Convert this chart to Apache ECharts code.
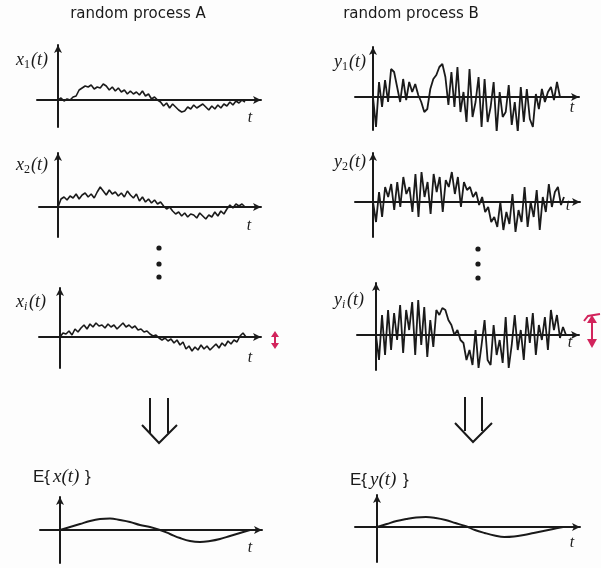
<!DOCTYPE html>
<html><head><meta charset="utf-8">
<script src="https://cdn.jsdelivr.net/npm/echarts@6/dist/echarts.min.js"></script>
<style>html,body{margin:0;padding:0;background:#fdfdfd}#c{width:601px;height:568px}</style>
</head><body><div id="c"></div><script>
// ---- text ----
const titleA = 'random process A';
const titleB = 'random process B';

// ---- sample paths (amplitude units) ----
const x1 = [0,2,-1,1,0,3,4,10,12,14,13,15,11,13,12,16,14,10,13,9,12,8,10,6,9,6,8,5,9,4,6,1,3,0,-2,-6,-3,-8,-4,-7,-10,-12,-11,-7,-9,-5,-8,-6,-4,-7,-10,-6,-9,-5,-8,-4,-6,-2,-5,-1,-3,0,-2];
const x2 = [0,8,10,7,11,9,13,8,12,14,10,13,9,15,20,16,12,17,13,15,11,14,10,16,12,9,13,6,10,5,8,4,7,3,5,1,-2,0,-4,-7,-5,-9,-6,-10,-7,-8,-11,-6,-9,-12,-8,-10,-5,-9,-4,-7,-2,2,-1,3,1,3,0];
const xi = [0,4,3,6,2,8,5,9,12,8,13,10,14,11,12,9,13,10,12,8,11,14,10,12,9,11,7,8,5,6,3,1,2,-1,-3,-1,-4,-2,-6,-3,-8,-5,-12,-9,-14,-10,-13,-8,-12,-9,-13,-10,-7,-11,-6,-9,-4,-7,-3,-5,1,4,0];
const y1 = [0,-30,15,-10,17,-5,28,25,10,-5,18,-3,15,5,13,2,-5,-15,-12,8,18,22,30,33,20,-8,25,-10,30,-15,5,-25,28,-20,-5,20,-30,18,-25,-10,15,-35,5,-20,-15,12,-28,-5,-35,10,-25,8,-22,-30,3,-12,8,-5,5,10,-3,15,0];
const y2 = [0,-20,10,-15,15,5,18,-8,20,-5,25,8,15,-10,28,-15,30,5,20,-12,28,10,25,-10,22,15,30,8,25,-5,20,12,15,5,10,-3,5,-10,-5,-20,-15,-25,0,-28,-10,-22,8,-30,-8,-20,15,-25,0,-15,12,-28,5,-10,18,-5,10,15,-3,5];
const yi = [0,-25,20,-20,25,-15,22,-5,30,-18,25,5,33,-20,35,-10,28,-22,15,-12,25,20,27,25,15,10,0,5,-5,-8,-25,-15,-30,5,-33,-10,15,-25,-30,10,-20,-5,-28,18,-33,-10,20,-15,5,-25,18,-8,22,-20,10,-5,18,-15,25,5,20,-3,8,0];
// ---- ensemble means ----
const meanX = [0,3,6,9,11,11.5,10,8,5,3,0,-4,-8,-11,-12,-11,-9,-6,-3,0];
const meanY = [0,3,6,8,9.5,10,9,7,4,1,-3,-6,-8.5,-10,-9.5,-8,-6,-4,-2,0];

// ---- layout (pixels) ----
const ink = '#1a1a1a';
const panels = [
  {data:x1, cx:58,  cy:100, left:37,  right:261, top:45,  bottom:127, end:245, w:1.6},
  {data:x2, cx:58,  cy:207, left:39,  right:261, top:153, bottom:237, end:245, w:1.6},
  {data:xi, cx:60,  cy:337, left:39,  right:261, top:288, bottom:368, end:246, w:1.6},
  {data:y1, cx:373, cy:97,  left:355, right:579, top:47,  bottom:130, end:560, w:1.8},
  {data:y2, cx:373, cy:202, left:355, right:580, top:153, bottom:237, end:564, w:1.8},
  {data:yi, cx:376, cy:335, left:357, right:579, top:283, bottom:370, end:566, w:1.8},
  {data:meanX, cx:60,  cy:530, left:40,  right:262, top:497, bottom:563, end:250, w:1.9},
  {data:meanY, cx:377, cy:527, left:355, right:580, top:495, bottom:562, end:563, w:1.9}
];

const grid = [], xAxis = [], yAxis = [], series = [];
panels.forEach((p, k) => {
  const n = p.data.length;
  const pu = (p.end - p.cx) / (n - 1);
  grid.push({left: p.left, top: p.top, width: p.right - p.left, height: p.bottom - p.top, containLabel: false});
  const axisLine = {onZero: true, symbol: ['none', 'arrow'], symbolSize: [6, 8], lineStyle: {color: ink, width: 2}};
  xAxis.push({type: 'value', gridIndex: k, min: -(p.cx - p.left) / pu, max: (p.right - p.cx) / pu,
    axisLine, axisTick: {show: false}, axisLabel: {show: false}, splitLine: {show: false}});
  yAxis.push({type: 'value', gridIndex: k, min: -(p.bottom - p.cy), max: p.cy - p.top,
    axisLine, axisTick: {show: false}, axisLabel: {show: false}, splitLine: {show: false}});
  series.push({type: 'line', xAxisIndex: k, yAxisIndex: k, data: p.data.map((v, i) => [i, v]),
    showSymbol: false, silent: true, smooth: k >= 6 ? 0.4 : false,
    lineStyle: {color: ink, width: p.w}});
});

const serif = 'italic 18px "Liberation Serif"';
function lbl(x, y, main, sub, subItalic) {
  const gap = subItalic ? 13 : 15;
  return [
    {type: 'text', x: x, y: y, style: {text: main, font: serif, fill: ink, verticalAlign: 'middle'}},
    {type: 'text', x: x + 8, y: y + 5, style: {text: sub, font: (subItalic ? 'italic ' : '') + '12px "Liberation Serif"', fill: ink, verticalAlign: 'middle'}},
    {type: 'text', x: x + gap, y: y, style: {text: '(t)', font: serif, fill: ink, verticalAlign: 'middle'}}
  ];
}
function tlab(x, y) {
  return {type: 'text', x: x, y: y, style: {text: 't', font: 'italic 16px "Liberation Serif"', fill: ink, align: 'center', verticalAlign: 'middle'}};
}
function dot(x, y) { return {type: 'circle', shape: {cx: x, cy: y, r: 2.6}, style: {fill: ink}}; }
function line(x1_, y1_, x2_, y2_, w, c) { return {type: 'line', shape: {x1: x1_, y1: y1_, x2: x2_, y2: y2_}, style: {stroke: c || ink, lineWidth: w || 2}}; }
function poly(pts, c) { return {type: 'polygon', shape: {points: pts}, style: {fill: c}}; }
function pl(pts, w, c) { return {type: 'polyline', shape: {points: pts}, style: {stroke: c || ink, lineWidth: w || 2, fill: null}}; }

const red = '#d2245c';
const sans = '15px "DejaVu Sans"';
const graphic = [
  {type: 'text', x: 138, y: 14, style: {text: titleA, font: sans, fill: ink, align: 'center', verticalAlign: 'middle'}},
  {type: 'text', x: 411, y: 14, style: {text: titleB, font: sans, fill: ink, align: 'center', verticalAlign: 'middle'}},
  ...lbl(16, 60, 'x', '1'), ...lbl(16, 165, 'x', '2'), ...lbl(16, 302, 'x', 'i', true),
  ...lbl(334, 62, 'y', '1'), ...lbl(334, 162, 'y', '2'), ...lbl(334, 300, 'y', 'i', true),
  tlab(250, 118), tlab(249, 226), tlab(250, 358), tlab(572, 108), tlab(568, 206), tlab(570, 343), tlab(250, 548), tlab(572, 543),
  dot(159, 248), dot(159, 264), dot(159, 277), dot(478, 249), dot(478, 264), dot(478, 278),
  // down arrows
  line(150, 398, 150, 433), line(168, 398, 168, 433), pl([[142, 425], [159, 443], [177, 425]]),
  line(465, 397, 465, 431), line(482, 397, 482, 431), pl([[455, 423], [473, 442], [492, 423]]),
  // E{x(t)} and E{y(t)}
  {type: 'text', x: 33, y: 477, style: {text: 'E{', font: '17px "Liberation Sans"', fill: ink, verticalAlign: 'middle'}},
  {type: 'text', x: 53, y: 477, style: {text: 'x(t)', font: 'italic 19px "Liberation Serif"', fill: ink, verticalAlign: 'middle'}},
  {type: 'text', x: 85, y: 477, style: {text: '}', font: '17px "Liberation Sans"', fill: ink, verticalAlign: 'middle'}},
  {type: 'text', x: 350, y: 480, style: {text: 'E{', font: '17px "Liberation Sans"', fill: ink, verticalAlign: 'middle'}},
  {type: 'text', x: 370, y: 480, style: {text: 'y(t)', font: 'italic 19px "Liberation Serif"', fill: ink, verticalAlign: 'middle'}},
  {type: 'text', x: 403, y: 480, style: {text: '}', font: '17px "Liberation Sans"', fill: ink, verticalAlign: 'middle'}},
  // red arrows
  line(275, 336, 275, 344, 2, red), poly([[275, 331], [271, 337], [279, 337]], red), poly([[275, 349], [271, 343], [279, 343]], red),
  line(592, 319, 592, 342, 2, red), poly([[592, 315], [587, 323], [597, 323]], red), poly([[592, 348], [587, 339], [597, 339]], red),
  pl([[584, 321], [588, 316], [600, 314]], 2, red)
];

const chart = echarts.init(document.getElementById('c'), null, {renderer: 'canvas'});
chart.setOption({backgroundColor: '#fdfdfd', animation: false, grid, xAxis, yAxis, series, graphic});
</script></body></html>
